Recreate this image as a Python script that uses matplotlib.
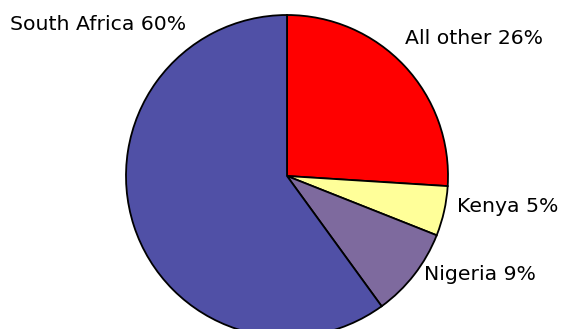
import matplotlib
matplotlib.use("Agg")
import matplotlib.pyplot as plt

categories = ["All other", "Kenya", "Nigeria", "South Africa"]
values = [26, 5, 9, 60]
colors = ["#FF0000", "#FFFF99", "#7E6A9E", "#5050A6"]

W, H = 561, 329
fig = plt.figure(figsize=(W / 100, H / 100), dpi=100)
ax = fig.add_axes([0, 0, 1, 1])
ax.pie(values, colors=colors, startangle=90, counterclock=False,
       center=(287, H - 176), radius=161, frame=True,
       wedgeprops=dict(edgecolor="black", linewidth=1.3))
ax.set_xlim(0, W)
ax.set_ylim(0, H)
ax.set_aspect("auto")
ax.axis("off")

labels = [f"{c} {v}%" for c, v in zip(categories, values)]
label_pos = {
    "All other": (405, 38, "left"),
    "Kenya": (457, 207, "left"),
    "Nigeria": (424, 274, "left"),
    "South Africa": (10, 25, "left"),
}
for c, lab in zip(categories, labels):
    x, y, ha = label_pos[c]
    ax.text(x, H - y, lab, ha=ha, va="center", fontsize=14.7,
            family="DejaVu Sans", color="black")

fig.savefig("out.png", dpi=100)
